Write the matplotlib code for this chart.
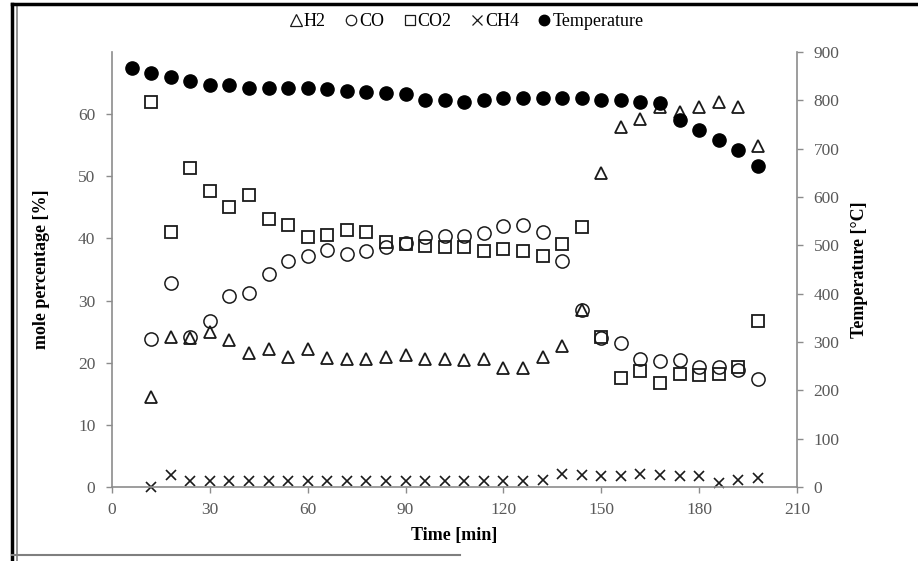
import matplotlib
matplotlib.use("Agg")
import matplotlib.pyplot as plt
from matplotlib.lines import Line2D

plt.rcParams['font.family'] = ['Liberation Serif', 'DejaVu Serif']

time_temp = [6, 12, 18, 24, 30, 36, 42, 48, 54, 60, 66, 72, 78, 84, 90, 96, 102,
             108, 114, 120, 126, 132, 138, 144, 150, 156, 162, 168, 174, 180, 186, 192, 198]
temperature = [867, 857, 848, 840, 832, 832, 826, 826, 826, 826, 824, 819, 817, 815, 813,
               801, 801, 797, 801, 805, 805, 805, 805, 805, 801, 801, 797, 795, 759, 739,
               718, 697, 664]

time_gas = [12, 18, 24, 30, 36, 42, 48, 54, 60, 66, 72, 78, 84, 90, 96, 102, 108, 114,
            120, 126, 132, 138, 144, 150, 156, 162, 168, 174, 180, 186, 192, 198]
h2 = [14.5, 24.1, 24.0, 24.9, 23.6, 21.5, 22.2, 21.0, 22.2, 20.8, 20.6, 20.6, 21.0, 21.2,
      20.6, 20.6, 20.4, 20.6, 19.2, 19.2, 21.0, 22.7, 28.5, 50.6, 57.9, 59.2, 61.2, 60.3,
      61.2, 62.0, 61.2, 54.8]
co = [23.8, 32.8, 24.1, 26.7, 30.7, 31.2, 34.3, 36.4, 37.2, 38.1, 37.5, 38.0, 38.6, 39.2,
      40.2, 40.4, 40.4, 40.9, 42.0, 42.1, 41.0, 36.4, 28.5, 24.0, 23.2, 20.6, 20.3, 20.4,
      19.3, 19.3, 18.8, 17.4]
co2 = [62.0, 41.0, 51.3, 47.6, 45.1, 47.0, 43.1, 42.2, 40.2, 40.6, 41.4, 41.0, 39.4, 39.1,
       38.8, 38.6, 38.6, 37.9, 38.3, 38.0, 37.2, 39.1, 41.8, 24.1, 17.5, 18.7, 16.7, 18.2,
       18.0, 18.2, 19.3, 26.7]
ch4 = [0.0, 1.9, 0.9, 0.9, 0.9, 0.9, 0.9, 0.9, 0.9, 0.9, 0.9, 0.9, 0.9, 0.9, 0.9, 0.9,
       0.9, 0.9, 0.9, 0.9, 1.2, 2.1, 2.0, 1.7, 1.7, 2.1, 1.9, 1.8, 1.7, 0.6, 1.2, 1.4]

x_ticks = [0, 30, 60, 90, 120, 150, 180, 210]
left_ticks = [0, 10, 20, 30, 40, 50, 60]
right_ticks = [0, 100, 200, 300, 400, 500, 600, 700, 800, 900]

W, H = 918, 561
fig = plt.figure(figsize=(W / 100, H / 100), dpi=100)
ax = fig.add_axes([112 / W, 1 - 487 / H, (797 - 112) / W, (487 - 52) / H])
ax2 = ax.twinx()

mk = '#1a1a1a'
spine_c = '#8c8c8c'
tick_c = '#595959'

ax.plot(time_gas, h2, ls='none', marker='^', ms=9, mfc='none', mec=mk, mew=1.3, label='H2')
ax.plot(time_gas, co, ls='none', marker='o', ms=9.5, mfc='none', mec=mk, mew=1.1, label='CO')
ax.plot(time_gas, co2, ls='none', marker='s', ms=8.5, mfc='none', mec=mk, mew=1.3, label='CO2')
ax.plot(time_gas, ch4, ls='none', marker='x', ms=7, mec=mk, mew=1.2, label='CH4')
ax2.plot(time_temp, temperature, ls='none', marker='o', ms=9.5, mfc='black', mec='black', label='Temperature')

ax.set_xlim(0, 210)
ax.set_ylim(0, 70)
ax2.set_ylim(0, 900)
ax.set_xticks(x_ticks)
ax.set_yticks(left_ticks)
ax2.set_yticks(right_ticks)

for a in (ax, ax2):
    for s in a.spines.values():
        s.set_visible(False)
    a.tick_params(colors=spine_c, labelcolor=tick_c, labelsize=12.5, length=4, width=1)

ax.spines['left'].set_visible(True)
ax.spines['left'].set_color(spine_c)
ax.spines['bottom'].set_visible(True)
ax.spines['bottom'].set_color(spine_c)
ax.spines['bottom'].set_linewidth(1.2)
ax.spines['left'].set_linewidth(1.2)
ax2.spines['right'].set_visible(True)
ax2.spines['right'].set_color(spine_c)
ax2.spines['right'].set_linewidth(1.2)
ax.tick_params(axis='y', pad=8)
ax.tick_params(axis='x', pad=7)
ax2.tick_params(axis='y', pad=8)

ax.set_xlabel('Time [min]', fontsize=13, fontweight='bold', labelpad=6)
ax.set_ylabel('mole percentage [%]', fontsize=13, fontweight='bold', labelpad=20)
ax2.set_ylabel('Temperature [°C]', fontsize=13, fontweight='bold', labelpad=8)
for ln in ax.lines + ax2.lines:
    ln.set_clip_on(False)

handles = [
    Line2D([], [], ls='none', marker='^', ms=8, mfc='none', mec=mk, mew=0.9),
    Line2D([], [], ls='none', marker='o', ms=7.5, mfc='none', mec=mk, mew=0.9),
    Line2D([], [], ls='none', marker='s', ms=7.5, mfc='none', mec=mk, mew=0.9),
    Line2D([], [], ls='none', marker='x', ms=7, mec=mk, mew=0.9),
    Line2D([], [], ls='none', marker='o', ms=7.5, mfc='black', mec='black'),
]
fig.legend(handles, ['H2', 'CO', 'CO2', 'CH4', 'Temperature'], loc='center',
           bbox_to_anchor=(467 / W, 1 - 22 / H), ncol=5, frameon=False, fontsize=13,
           handlelength=0.6, handletextpad=0.15, columnspacing=1.1)

# figure frame lines
fig.add_artist(Line2D([12 / W, 12 / W], [0, 1 - 4 / H], color='black', lw=2.5, transform=fig.transFigure))
fig.add_artist(Line2D([17 / W, 17 / W], [0, 1 - 6 / H], color='#7f7f7f', lw=1.2, transform=fig.transFigure))
fig.add_artist(Line2D([12 / W, 1], [1 - 4 / H, 1 - 4 / H], color='black', lw=2.5, transform=fig.transFigure))
fig.add_artist(Line2D([12 / W, 460 / W], [1 - 555 / H, 1 - 555 / H], color='#7f7f7f', lw=1.5, transform=fig.transFigure))

fig.savefig('out.png', dpi=100)
